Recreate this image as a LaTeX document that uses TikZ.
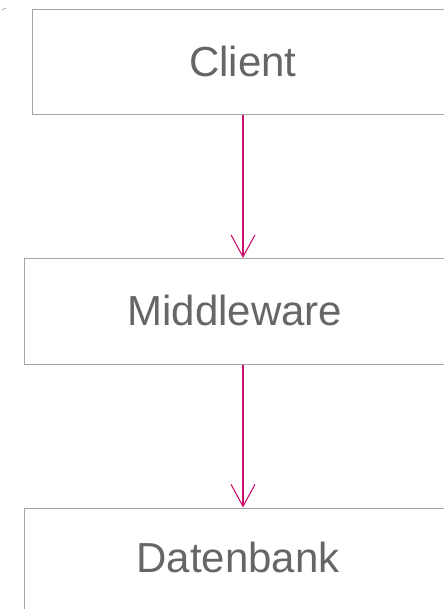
\documentclass[tikz,border=0pt]{standalone}
\usepackage{fontspec}
\setmainfont{Liberation Sans}
\usetikzlibrary{arrows.meta}
\definecolor{boxline}{RGB}{165,165,165}
\definecolor{labeltext}{RGB}{102,102,102}
\definecolor{flow}{RGB}{200,18,110}
\begin{document}
\begin{tikzpicture}[x=1pt,y=-1pt,
  tier/.style={draw=boxline,line width=1pt,minimum height=105.5pt,inner sep=0pt},
  tierlabel/.style={anchor=base,text=labeltext,font=\fontsize{42}{50}\selectfont,inner sep=0pt},
  flowarrow/.style={draw=flow,line width=1.1pt,-{Straight Barb[length=22pt,width=24pt,line width=1.1pt]}}]
  \useasboundingbox (0,0) rectangle (444,609);
  \clip (0,0) rectangle (444,609);
  \fill[white] (0,0) rectangle (444,609);
  % small stray stroke in the corner
  \draw[boxline,line width=0.8pt] (2,9.5) -- (6,8.5);
  % tiers
  \node[tier,minimum width=422pt] (client) at (243,62.25) {};
  \node[tier,minimum width=421pt] (mid) at (235,311.25) {};
  \node[tier,minimum width=427pt] (db) at (238,560.75) {};
  \node[tierlabel] (clientlabel) at (243,77) {Client};
  \node[tierlabel] (midlabel) at (235,325) {Middleware};
  \node[tierlabel] (dblabel) at (238,572) {Datenbank};
  % connectors
  \draw[flowarrow] (client.south) -- (client.south |- mid.north);
  \draw[flowarrow] (client.south |- mid.south) -- (client.south |- db.north);
\end{tikzpicture}
\end{document}
